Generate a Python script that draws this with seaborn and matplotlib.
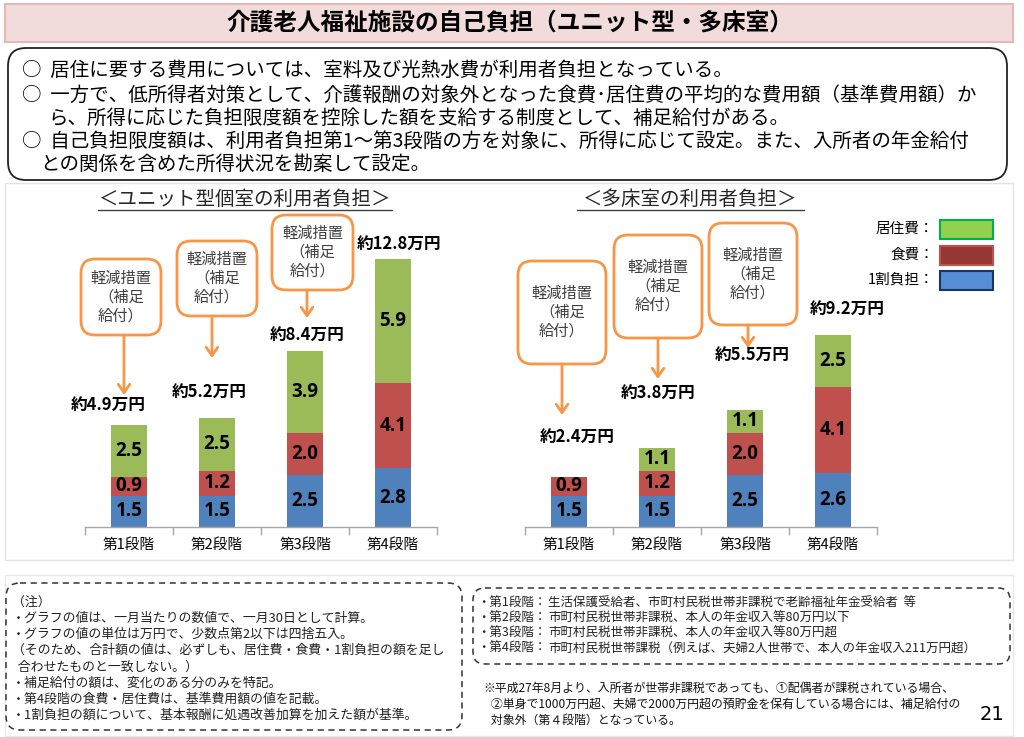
import numpy as np
import pandas as pd
import seaborn as sns
import matplotlib.pyplot as plt
from matplotlib.patches import FancyBboxPatch, Rectangle

# ---- data (万円 / month) ----
stages = ["第1段階", "第2段階", "第3段階", "第4段階"]
unit_care = [1.5, 1.5, 2.5, 2.8]     # 1割負担
unit_food = [0.9, 1.2, 2.0, 4.1]     # 食費
unit_home = [2.5, 2.5, 3.9, 5.9]     # 居住費
unit_total = ["約4.9万円", "約5.2万円", "約8.4万円", "約12.8万円"]
multi_care = [1.5, 1.5, 2.5, 2.6]
multi_food = [0.9, 1.2, 2.0, 4.1]
multi_home = [0.0, 1.1, 1.1, 2.5]
multi_total = ["約2.4万円", "約3.8万円", "約5.5万円", "約9.2万円"]

GREEN = "#9bbb59"
RED = "#c0504d"
BLUE = "#4f81bd"
ORANGE = "#f79646"

sns.set_theme(style="white")
plt.rcParams['font.family'] = ['Noto Sans CJK JP', 'DejaVu Sans']

W, H = 1024, 737
fig = plt.figure(figsize=(W / 100, H / 100), dpi=100)

def px_axes(l, t, r, b, z):
    return fig.add_axes([l / W, 1 - b / H, (r - l) / W, (b - t) / H], zorder=z)

# background layer in pixel coords
bg = fig.add_axes([0, 0, 1, 1], zorder=0)
bg.set_xlim(0, W); bg.set_ylim(H, 0); bg.axis('off')

# title bar
bg.add_patch(Rectangle((5, 4), 1008, 38, fc="#f2dcdb", ec="#e6b9b8", lw=1.5))
bg.text(510, 23, "介護老人福祉施設の自己負担（ユニット型・多床室）", ha="center", va="center",
        fontsize=17, fontweight="bold", color="black")

# summary box
bg.add_patch(FancyBboxPatch((8, 48), 999, 132, boxstyle="round,pad=0,rounding_size=18",
                            fc="white", ec="#222222", lw=1.3))
lines = [
    (22, 70, "○  居住に要する費用については、室料及び光熱水費が利用者負担となっている。"),
    (22, 95, "○  一方で、低所得者対策として、介護報酬の対象外となった食費･居住費の平均的な費用額（基準費用額）か"),
    (48, 118, "ら、所得に応じた負担限度額を控除した額を支給する制度として、補足給付がある。"),
    (22, 141, "○  自己負担限度額は、利用者負担第1～第3段階の方を対象に、所得に応じて設定。また、入所者の年金給付"),
    (40, 164, "との関係を含めた所得状況を勘案して設定。"),
]
for x, y, s in lines:
    bg.text(x, y, s, ha="left", va="center", fontsize=14, color="black")

# chart panel
bg.add_patch(Rectangle((5, 183), 1008, 377, fc="white", ec="#e3e3e3", lw=1))
grad = np.linspace(0, 1, 50).reshape(-1, 1)
bg.imshow(grad, extent=(6, 1012, 530, 559), cmap=sns.light_palette("#e6e6e6", as_cmap=True),
          aspect="auto", zorder=0.5)
bg.add_patch(Rectangle((5, 575), 1008, 161, fc="white", ec="#e8e8e8", lw=1))

# notes
bg.add_patch(FancyBboxPatch((6, 583), 456, 147, boxstyle="round,pad=0,rounding_size=14",
                            fc="none", ec="#333333", lw=1.1, ls=(0, (4, 3))))
notes = ["（注）",
         "・グラフの値は、一月当たりの数値で、一月30日として計算。",
         "・グラフの値の単位は万円で、少数点第2以下は四捨五入。",
         "（そのため、合計額の値は、必ずしも、居住費・食費・1割負担の額を足し",
         "  合わせたものと一致しない。）",
         "・補足給付の額は、変化のある分のみを特記。",
         "・第4段階の食費・居住費は、基準費用額の値を記載。",
         "・1割負担の額について、基本報酬に処遇改善加算を加えた額が基準。"]
for i, s in enumerate(notes):
    bg.text(12, 602 + i * 16.2, s, ha="left", va="center", fontsize=9.3, color="#222222")

bg.add_patch(FancyBboxPatch((473, 588), 537, 76, boxstyle="round,pad=0,rounding_size=12",
                            fc="none", ec="#333333", lw=1.1, ls=(0, (4, 3))))
stage_notes = ["生活保護受給者、市町村民税世帯非課税で老齢福祉年金受給者  等",
               "市町村民税世帯非課税、本人の年金収入等80万円以下",
               "市町村民税世帯非課税、本人の年金収入等80万円超",
               "市町村民税世帯課税（例えば、夫婦2人世帯で、本人の年金収入211万円超）"]
for i, s in enumerate(stage_notes):
    y = 603 + i * 15.3
    bg.text(477, y, "・" + stages[i] + "：", ha="left", va="center", fontsize=9, color="#222222")
    bg.text(548, y, s, ha="left", va="center", fontsize=9, color="#222222")

extra = ["※平成27年8月より、入所者が世帯非課税であっても、①配偶者が課税されている場合、",
         "   ②単身で1000万円超、夫婦で2000万円超の預貯金を保有している場合には、補足給付の",
         "   対象外（第４段階）となっている。"]
for i, s in enumerate(extra):
    bg.text(483, 688 + i * 16, s, ha="left", va="center", fontsize=8.6, color="#111111")
bg.text(992, 715, "21", ha="center", va="center", fontsize=14, color="black", family="DejaVu Sans")

# ---- stacked bar charts ----
PXU = 20.9  # pixels per 万円

def draw_chart(ax, care, food, home):
    df = pd.DataFrame({"stage": stages, "care": care, "food": food, "home": home})
    df["c1"] = df["care"]
    df["c2"] = df["care"] + df["food"]
    df["c3"] = df["c2"] + df["home"]
    for col, color in [("c3", GREEN), ("c2", RED), ("c1", BLUE)]:
        sns.barplot(data=df, x="stage", y=col, color=color, width=0.4, saturation=1,
                    errorbar=None, linewidth=0, ax=ax)
    for i in range(len(stages)):
        bottom = 0
        for v in (care[i], food[i], home[i]):
            if v > 0:
                ax.text(i, bottom + v / 2, f"{v:.1f}", ha="center", va="center",
                        fontsize=13.5, fontweight="bold", family="Open Sans", color="black")
            bottom += v
    ax.set_xlim(-0.5, 3.5)
    ax.set_ylim(0, (527 - 190) / PXU)
    ax.set_yticks([])
    ax.set_xlabel("")
    ax.set_ylabel("")
    ax.patch.set_alpha(0)
    for sp in ("top", "left", "right"):
        ax.spines[sp].set_visible(False)
    ax.spines["bottom"].set_color("#a6a6a6")
    ax.spines["bottom"].set_linewidth(1)
    ax.set_xticks(np.arange(-0.5, 4), minor=True)
    ax.tick_params(axis="x", which="major", length=0, pad=8, labelsize=10.5, labelcolor="black")
    ax.tick_params(axis="x", which="minor", length=6, color="#a6a6a6", width=1, bottom=True)

ax1 = px_axes(85, 190, 437, 527, 1)
draw_chart(ax1, unit_care, unit_food, unit_home)
ax2 = px_axes(525, 190, 877, 527, 1)
draw_chart(ax2, multi_care, multi_food, multi_home)

# ---- overlay: subtitles, totals, callouts, legend ----
ov = fig.add_axes([0, 0, 1, 1], zorder=2)
ov.set_xlim(0, W); ov.set_ylim(H, 0); ov.axis('off'); ov.patch.set_alpha(0)

for cx, x0, x1, s in [(245, 98, 392, "＜ユニット型個室の利用者負担＞"),
                      (690, 577, 804, "＜多床室の利用者負担＞")]:
    ov.text(cx, 199, s, ha="center", va="center", fontsize=14, color="#262626")
    ov.plot([x0, x1], [210, 210], color="#404040", lw=1)

total_pos = [[(108, 405), (209, 392), (307, 335), (399, 244)],
             [(577, 437), (658, 393), (752, 355), (847, 309)]]
for labels, pos in [(unit_total, total_pos[0]), (multi_total, total_pos[1])]:
    for s, (x, y) in zip(labels, pos):
        ov.text(x, y, s, ha="center", va="center", fontsize=12, fontweight="bold", color="black")

callouts = [(81, 259, 161, 335, 124, 395), (177, 241, 257, 316, 212, 358),
            (272, 215, 353, 290, 307, 318),
            (518, 261, 606, 364, 562, 415), (614, 235, 702, 338, 658, 379),
            (709, 223, 797, 325, 748, 348)]
for x0, y0, x1, y1, axx, ay in callouts:
    ov.add_patch(FancyBboxPatch((x0, y0), x1 - x0, y1 - y0,
                                boxstyle="round,pad=0,rounding_size=14",
                                fc="white", ec=ORANGE, lw=2))
    ov.text((x0 + x1) / 2, (y0 + y1) / 2, "軽減措置\n（補足\n給付）", ha="center", va="center",
            fontsize=11, color="#404040", linespacing=1.15, multialignment="center")
    ov.annotate("", xy=(axx, ay), xytext=(axx, y1),
                arrowprops=dict(arrowstyle="->,head_length=0.5,head_width=0.35",
                                color=ORANGE, lw=2, shrinkA=0, shrinkB=0))

legend = [("居住費：", "#92d050", "#00b050", 229), ("食費：", "#953735", "#c0504d", 255),
          ("1割負担：", "#558ed5", "#17375e", 280)]
for s, fc, ec, y in legend:
    ov.text(934, y, s, ha="right", va="center", fontsize=10.5, color="black")
    ov.add_patch(Rectangle((940, y - 9), 53, 19, fc=fc, ec=ec, lw=1.5))

fig.savefig("out.png", dpi=100)
